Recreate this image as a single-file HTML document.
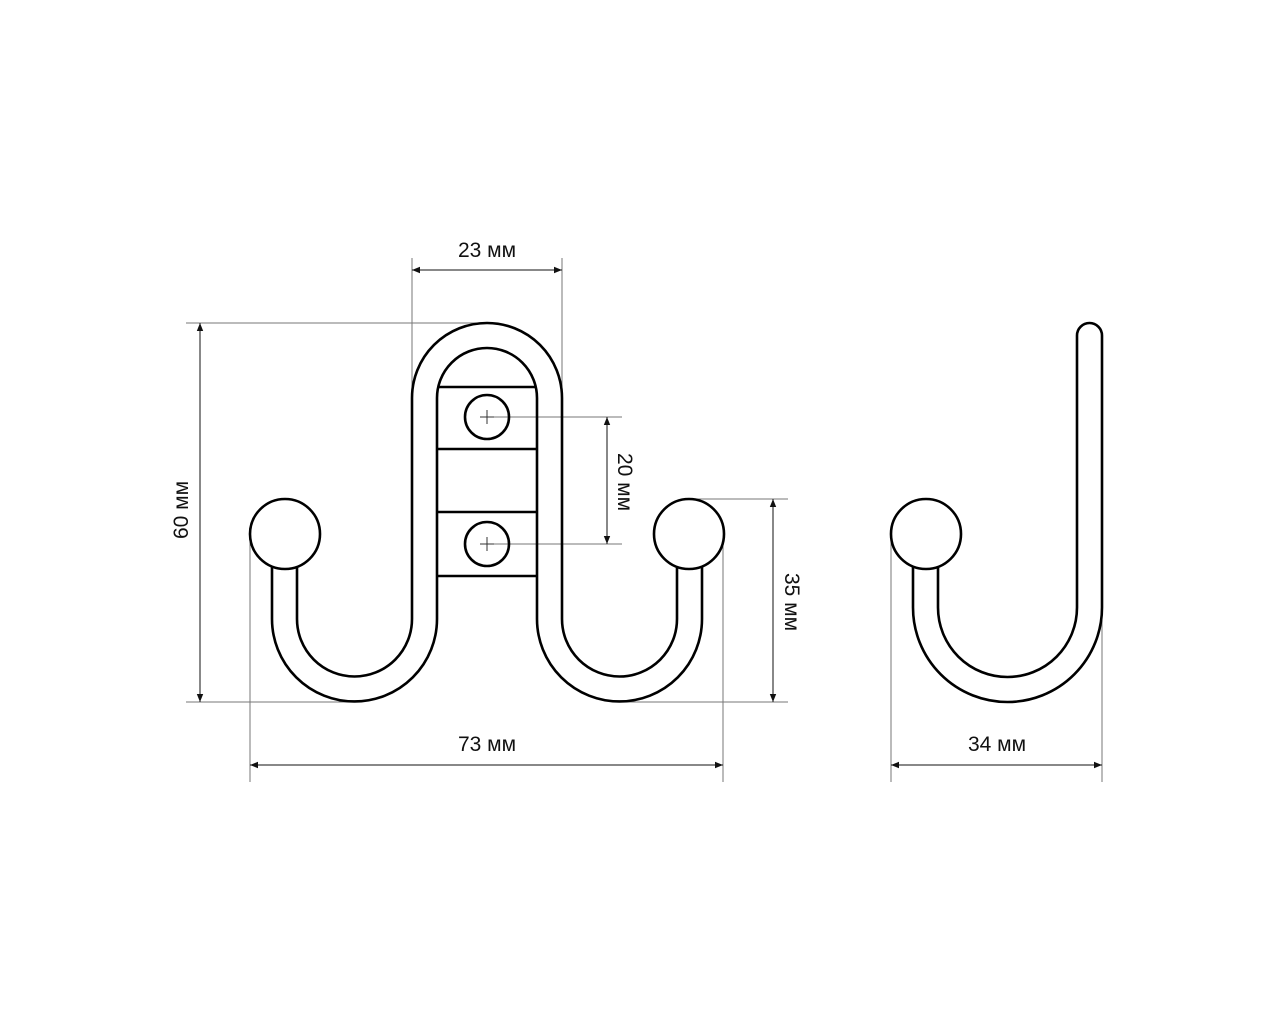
<!DOCTYPE html>
<html><head><meta charset="utf-8"><style>
html,body{margin:0;padding:0;background:#fff;}
svg{display:block}
text{font-family:"Liberation Sans",Arial,sans-serif;font-size:21px;fill:#111;}
</style></head><body>
<svg width="1280" height="1024" viewBox="0 0 1280 1024" xmlns="http://www.w3.org/2000/svg">
<defs>
<marker id="a" viewBox="0 0 10 10" refX="10" refY="5" markerWidth="10" markerHeight="8" markerUnits="userSpaceOnUse" orient="auto-start-reverse"><path d="M0 1 L10 5 L0 9 Z" fill="#111"/></marker>
</defs>
<g stroke="#777" stroke-width="1" fill="none">
<!-- extension lines -->
<line x1="412" y1="258" x2="412" y2="398"/>
<line x1="562" y1="258" x2="562" y2="398"/>
<line x1="186" y1="323" x2="487" y2="323"/>
<line x1="186" y1="702" x2="355" y2="702"/>
<line x1="487" y1="417" x2="622" y2="417"/>
<line x1="487" y1="544" x2="622" y2="544"/>
<line x1="689" y1="499" x2="788" y2="499"/>
<line x1="620" y1="702" x2="788" y2="702"/>
<line x1="250" y1="534" x2="250" y2="782"/>
<line x1="723" y1="534" x2="723" y2="782"/>
<line x1="891" y1="534" x2="891" y2="782"/>
<line x1="1102" y1="600" x2="1102" y2="782"/>
</g>
<g stroke="#111" stroke-width="1" fill="none" marker-start="url(#a)" marker-end="url(#a)">
<line x1="412" y1="270" x2="562" y2="270"/>
<line x1="200" y1="323" x2="200" y2="702"/>
<line x1="607" y1="417" x2="607" y2="544"/>
<line x1="773" y1="499" x2="773" y2="702"/>
<line x1="250" y1="765" x2="723" y2="765"/>
<line x1="891" y1="765" x2="1102" y2="765"/>
</g>
<g stroke="#000" stroke-width="2.6" fill="none">
<path d="M272 566 V619 A82.5 82.5 0 0 0 437 619"/>
<path d="M297 566 V619 A57.5 57.5 0 0 0 412 619"/>
<path d="M412 619 V398 A75 75 0 0 1 562 398 V619"/>
<path d="M437 619 V398 A50 50 0 0 1 537 398 V619"/>
<path d="M702 566 V619 A82.5 82.5 0 0 1 537 619"/>
<path d="M677 566 V619 A57.5 57.5 0 0 1 562 619"/>
<line x1="438" y1="387" x2="536" y2="387"/>
<line x1="437" y1="449" x2="537" y2="449"/>
<line x1="437" y1="512" x2="537" y2="512"/>
<line x1="437" y1="576" x2="537" y2="576"/>
<circle cx="487" cy="417" r="22"/>
<circle cx="487" cy="544" r="22"/>
<circle cx="285" cy="534" r="35" fill="#fff"/>
<circle cx="689" cy="534" r="35" fill="#fff"/>
<!-- side J -->
<path d="M913 566 V607.5 A94.5 94.5 0 0 0 1102 607.5 V335.5 A12.5 12.5 0 0 0 1077 335.5 V607.5 A69.5 69.5 0 0 1 938 607.5 V566"/>
<circle cx="926" cy="534" r="35" fill="#fff"/>
</g>
<g stroke="#333" stroke-width="1">
<line x1="480" y1="417" x2="494" y2="417"/><line x1="487" y1="410" x2="487" y2="424"/>
<line x1="480" y1="544" x2="494" y2="544"/><line x1="487" y1="537" x2="487" y2="551"/>
</g>
<text x="487" y="257" text-anchor="middle">23 мм</text>
<text x="487" y="751" text-anchor="middle">73 мм</text>
<text x="997" y="751" text-anchor="middle">34 мм</text>
<text transform="translate(188 510) rotate(-90)" text-anchor="middle">60 мм</text>
<text transform="translate(618 482) rotate(90)" text-anchor="middle">20 мм</text>
<text transform="translate(785 602) rotate(90)" text-anchor="middle">35 мм</text>
</svg>
</body></html>
